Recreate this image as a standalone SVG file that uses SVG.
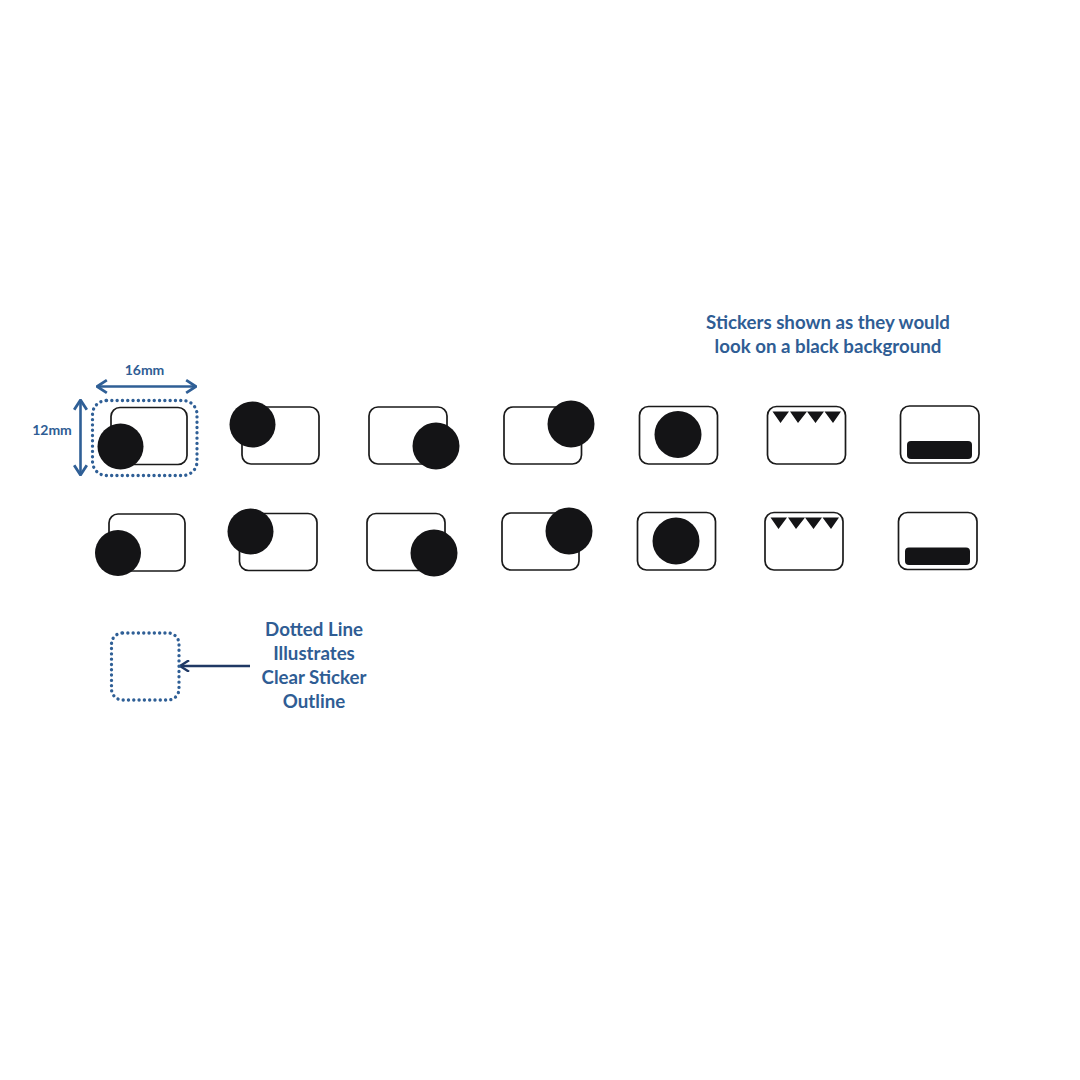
<svg xmlns="http://www.w3.org/2000/svg" width="1080" height="1080" viewBox="0 0 1080 1080">
<style>
.s{fill:#fff;stroke:#1a1a1a;stroke-width:1.7}
.k{fill:#141416}
.d{fill:none;stroke:#2f5f96;stroke-width:3.3;stroke-dasharray:0.1 5.2;stroke-linecap:round}
.a{fill:none;stroke:#2f5f96;stroke-width:2.6}
.n{fill:none;stroke:#1f3864;stroke-width:2.4}
text{font-family:"Lato","Liberation Sans",sans-serif;font-weight:700;fill:#2f5d94;text-anchor:middle}
.t{font-size:18.700px}
.m{font-size:14px}
</style>
<defs>
<marker id="h" viewBox="0 0 10 10" refX="9" refY="5" markerWidth="5.400" markerHeight="5.400" orient="auto-start-reverse"><path d="M2 0.500L9 5L2 9.500" fill="none" stroke="#2f5f96" stroke-width="2"/></marker>
<marker id="h2" viewBox="0 0 10 10" refX="9" refY="5" markerWidth="5.400" markerHeight="5.400" orient="auto"><path d="M2 0.500L9 5L2 9.500" fill="none" stroke="#1f3864" stroke-width="1.800"/></marker>
</defs>
<rect width="1080" height="1080" fill="#fff"/>
<g id="connectors">
<line class="a" x1="97" y1="386.500" x2="196" y2="386.500" marker-start="url(#h)" marker-end="url(#h)"/>
<line class="a" x1="80.500" y1="400" x2="80.500" y2="475" marker-start="url(#h)" marker-end="url(#h)"/>
<line class="n" x1="250" y1="666" x2="180" y2="666" marker-end="url(#h2)"/>
</g>
<g id="dim-labels">
<text class="m" x="144.500" y="375">16mm</text>
<text class="m" x="52" y="435">12mm</text>
</g>
<g id="heading"><text class="t" x="828" y="329">Stickers shown as they would</text><text class="t" x="828" y="353">look on a black background</text></g>
<g id="legend-label"><text class="t" x="314" y="636">Dotted Line</text><text class="t" x="314" y="660">Illustrates</text><text class="t" x="314" y="684">Clear Sticker</text><text class="t" x="314" y="708">Outline</text></g>
<rect id="legend-outline" class="d" x="111.500" y="633" width="67.500" height="67" rx="11"/>
<rect id="dotted-outline" class="d" x="92.500" y="400.500" width="104.500" height="75" rx="14"/>
<g id="r1c1"><rect class="s" x="111" y="407.500" width="76" height="57" rx="9"/><circle class="k" cx="120.500" cy="446.500" r="23"/></g>
<g id="r1c2"><rect class="s" x="242" y="407" width="77" height="57" rx="9"/><circle class="k" cx="252.500" cy="424.500" r="23"/></g>
<g id="r1c3"><rect class="s" x="369" y="407" width="78" height="57" rx="9"/><circle class="k" cx="436" cy="446" r="23.500"/></g>
<g id="r1c4"><rect class="s" x="504" y="407" width="77.500" height="57" rx="9"/><circle class="k" cx="571" cy="424" r="23.500"/></g>
<g id="r1c5"><rect class="s" x="639.500" y="406.500" width="78" height="57.500" rx="9"/><circle class="k" cx="678" cy="434.500" r="23.500"/></g>
<g id="r1c6"><rect class="s" x="767.500" y="406.500" width="78" height="57.500" rx="9"/><path class="k" d="M772.500 411.500H789L780.500 423ZM790 411.500H807L798 423ZM807 411.500H824L815.500 423ZM824.500 411.500H841L833 423Z"/></g>
<g id="r1c7"><rect class="s" x="900.500" y="406" width="78.500" height="57" rx="9"/><rect class="k" x="907" y="441" width="65" height="18" rx="4"/></g>
<g id="r2c1"><rect class="s" x="109" y="514" width="76" height="57" rx="9"/><circle class="k" cx="118" cy="553" r="23"/></g>
<g id="r2c2"><rect class="s" x="239.500" y="513.500" width="77.500" height="57" rx="9"/><circle class="k" cx="250.500" cy="531.500" r="23"/></g>
<g id="r2c3"><rect class="s" x="367" y="513.500" width="78" height="57" rx="9"/><circle class="k" cx="434" cy="553" r="23.500"/></g>
<g id="r2c4"><rect class="s" x="502" y="513" width="77" height="57" rx="9"/><circle class="k" cx="569" cy="531" r="23.500"/></g>
<g id="r2c5"><rect class="s" x="637.500" y="512.500" width="78" height="57.500" rx="9"/><circle class="k" cx="676" cy="541" r="23.500"/></g>
<g id="r2c6"><rect class="s" x="765" y="512.500" width="78" height="57.500" rx="9"/><path class="k" d="M770.500 517.500H787L778.500 529ZM788 517.500H805L796 529ZM805 517.500H822L813.500 529ZM822.500 517.500H839L831 529Z"/></g>
<g id="r2c7"><rect class="s" x="898.500" y="512.500" width="78.500" height="57" rx="9"/><rect class="k" x="905" y="547.500" width="65" height="17.500" rx="4"/></g>
</svg>
